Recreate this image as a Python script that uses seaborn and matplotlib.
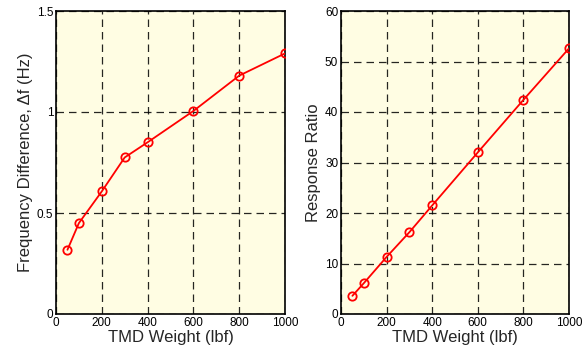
import matplotlib
matplotlib.use("Agg")
import matplotlib.pyplot as plt
import seaborn as sns
import pandas as pd

weights = [50, 100, 200, 300, 400, 600, 800, 1000]
freq_diff = [0.318, 0.45, 0.607, 0.775, 0.85, 1.005, 1.18, 1.29]
resp_ratio = [3.6, 6.1, 11.3, 16.2, 21.5, 32.0, 42.4, 52.6]

sns.set_style("white")
plt.rcParams['font.family'] = ['Liberation Sans', 'DejaVu Sans']

df = pd.DataFrame({"w": weights, "f": freq_diff, "r": resp_ratio})

fig = plt.figure(figsize=(5.85, 3.54), dpi=100)
ax1 = fig.add_axes([56/585, 1 - 314/354, (285-56)/585, (314-11)/354])
ax2 = fig.add_axes([341/585, 1 - 314/354, (569-341)/585, (314-11)/354])

bg = "#FFFDE3"
for ax, col, ylim, yticks, ylab, yticklabels in [
    (ax1, "f", (0, 1.5), [0, 0.5, 1, 1.5], "Frequency Difference, \u0394f (Hz)", ["0", "0.5", "1", "1.5"]),
    (ax2, "r", (0, 60), [0, 10, 20, 30, 40, 50, 60], "Response Ratio", None),
]:
    sns.lineplot(data=df, x="w", y=col, ax=ax, color="#FF0000", linewidth=1.3,
                 marker="o", markersize=6, markerfacecolor="none",
                 markeredgecolor="#FF0000", markeredgewidth=1.3, zorder=3)
    ax.set_facecolor(bg)
    ax.set_xlim(0, 1000)
    ax.set_ylim(*ylim)
    ax.set_xticks([0, 200, 400, 600, 800, 1000])
    ax.set_yticks(yticks)
    if yticklabels:
        ax.set_yticklabels(yticklabels)
    ax.grid(True, color="black", linestyle=(0, (6, 4)), linewidth=0.9, alpha=0.85)
    ax.set_axisbelow(True)
    for s in ax.spines.values():
        s.set_color("black")
        s.set_linewidth(1.2)
    ax.tick_params(axis="both", length=0, labelsize=8.5, pad=2, colors="black")
    ax.set_xlabel("TMD Weight (lbf)", fontsize=12, labelpad=1)
    ax.set_ylabel(ylab, fontsize=12, labelpad=3)

fig.savefig("out.png", dpi=100)
